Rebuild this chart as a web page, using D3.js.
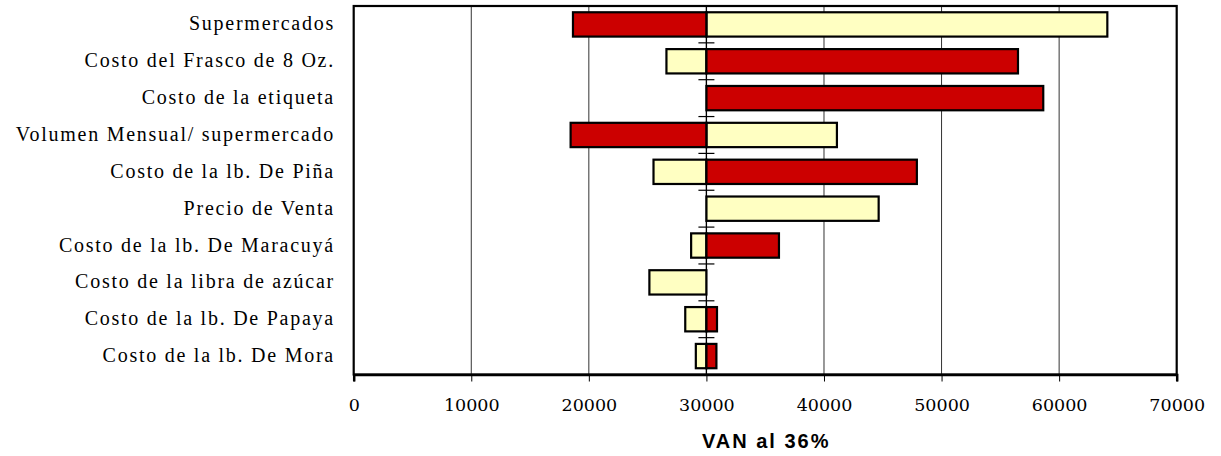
<!DOCTYPE html>
<html>
<head>
<meta charset="utf-8">
<script src="https://cdn.jsdelivr.net/npm/d3@7"></script>
<style>
  html, body { margin: 0; padding: 0; background: #fff; }
  svg { display: block; }
</style>
</head>
<body>
<svg id="chart" width="1221" height="456"></svg>
<script>
// Sensitivity variables, top to bottom
const categories = [
  "Supermercados",
  "Costo del Frasco de 8 Oz.",
  "Costo de la etiqueta",
  "Volumen Mensual/ supermercado",
  "Costo de la lb. De Piña",
  "Precio de Venta",
  "Costo de la lb. De Maracuyá",
  "Costo de la libra de azúcar",
  "Costo de la lb. De Papaya",
  "Costo de la lb. De Mora"
];
// Base-case NPV the bars grow from
const baseValue = 30000;
// NPV reached by each variable at its two extremes
const redValues    = [18650, 56500, 58650, 18450, 47900, 30000, 36170, 30000, 30900, 30850];
const yellowValues = [64100, 26600, 30000, 41100, 25500, 44650, 28700, 25150, 28200, 29100];
const xTicks = [0, 10000, 20000, 30000, 40000, 50000, 60000, 70000];
const xTitle = "VAN al 36%";

const svg = d3.select("#chart");
const plotLeft = 353.7, plotRight = 1176.7, plotTop = 6, plotBottom = 374.5;

const x = d3.scaleLinear().domain([0, 70000]).range([plotLeft, plotRight]);
const y = d3.scaleBand().domain(categories).range([plotTop, plotBottom]).paddingInner(0.34).paddingOuter(0.17);
const band = (plotBottom - plotTop) / categories.length;

// vertical gridlines
svg.append("g").selectAll("line").data(xTicks.filter(d => d > 0 && d < 70000)).join("line")
  .attr("x1", d => x(d)).attr("x2", d => x(d))
  .attr("y1", plotTop).attr("y2", plotBottom)
  .attr("stroke", "#333").attr("stroke-width", 1);

// bars: one series per colour, each from the base value to its result
function drawSeries(values, fill) {
  svg.append("g").selectAll("rect")
    .data(values.map((v, i) => ({ v, c: categories[i] })).filter(d => d.v !== baseValue))
    .join("rect")
    .attr("x", d => x(Math.min(d.v, baseValue)))
    .attr("width", d => Math.abs(x(d.v) - x(baseValue)))
    .attr("y", d => y(d.c))
    .attr("height", y.bandwidth())
    .attr("fill", fill)
    .attr("stroke", "#000")
    .attr("stroke-width", 2.2);
}
drawSeries(yellowValues, "#FFFFC2");
drawSeries(redValues, "#CC0000");

// vertical axis crossing at the base value, with cross ticks between categories
svg.append("line")
  .attr("x1", x(baseValue)).attr("x2", x(baseValue))
  .attr("y1", plotTop).attr("y2", plotBottom)
  .attr("stroke", "#000").attr("stroke-width", 1.3);
svg.append("g").selectAll("line").data(d3.range(1, categories.length)).join("line")
  .attr("x1", x(baseValue) - 8).attr("x2", x(baseValue) + 8)
  .attr("y1", i => plotTop + i * band).attr("y2", i => plotTop + i * band)
  .attr("stroke", "#000").attr("stroke-width", 1.2);

// plot frame
svg.append("rect")
  .attr("x", plotLeft).attr("y", plotTop)
  .attr("width", plotRight - plotLeft).attr("height", plotBottom - plotTop)
  .attr("fill", "none").attr("stroke", "#000").attr("stroke-width", 2.2);

// bottom value axis
const xAxis = d3.axisBottom(x).tickValues(xTicks).tickFormat(d3.format("d")).tickSize(7).tickPadding(17);
const gx = svg.append("g").attr("transform", `translate(0,${plotBottom})`).call(xAxis);
gx.select(".domain").attr("stroke", "#000").attr("stroke-width", 2.5);
gx.selectAll(".tick line").attr("stroke", "#000").attr("stroke-width", 1);
gx.selectAll(".tick text")
  .attr("fill", "#000")
  .style("font-family", "'DejaVu Serif', serif")
  .style("font-size", "17.5px");

// category labels
svg.append("g").selectAll("text").data(categories).join("text")
  .attr("x", 335)
  .attr("y", d => y(d) + y.bandwidth() / 2 + 6)
  .attr("text-anchor", "end")
  .style("font-family", "'Liberation Serif', 'Times New Roman', serif")
  .style("font-size", "20px")
  .style("letter-spacing", "1.75px")
  .attr("fill", "#000")
  .text(d => d);

// axis title
svg.append("text")
  .attr("x", (plotLeft + plotRight) / 2 + 1)
  .attr("y", 447.5)
  .attr("text-anchor", "middle")
  .style("font-family", "'Liberation Sans', Arial, sans-serif")
  .style("font-weight", "bold")
  .style("font-size", "20px")
  .style("letter-spacing", "2px")
  .attr("fill", "#000")
  .text(xTitle);
</script>
</body>
</html>
